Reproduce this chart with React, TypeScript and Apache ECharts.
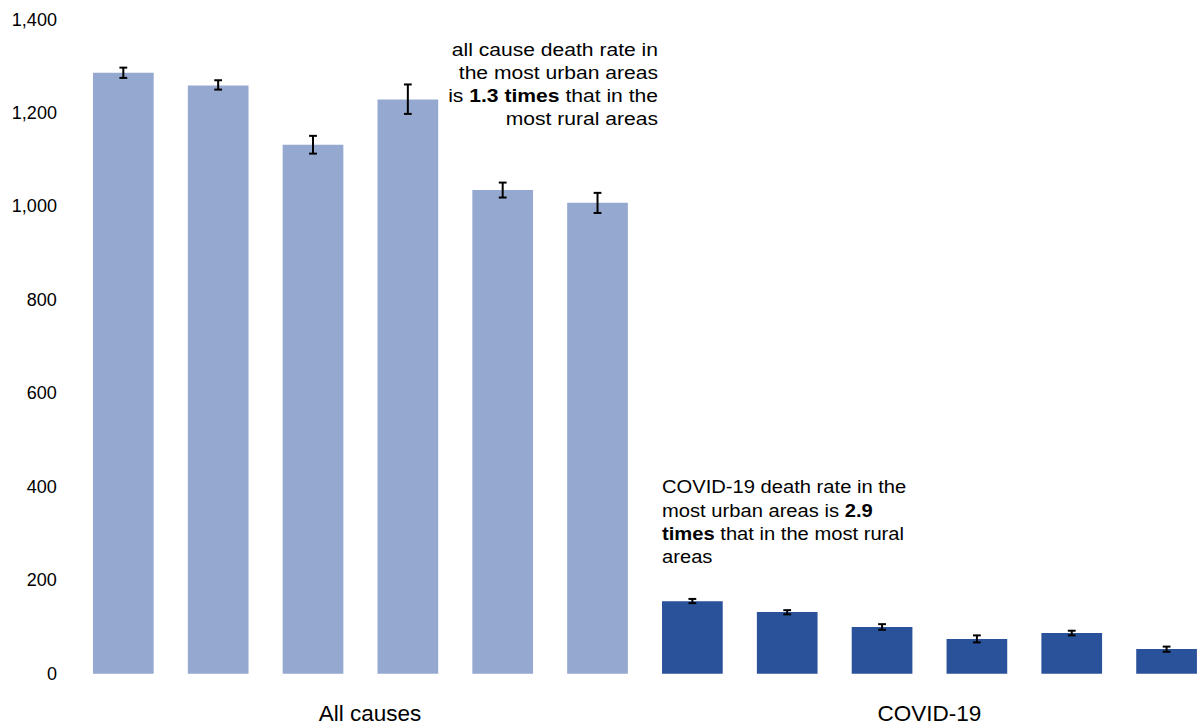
import React, { useEffect, useRef } from "react";
import * as echarts from "echarts";

// ---- data ----
const areaTypes = [
  "Urban major conurbation",
  "Urban minor conurbation",
  "Urban city and town",
  "Urban city and town in a sparse setting",
  "Rural town and fringe",
  "Rural village and dispersed",
];
const groups = ["All causes", "COVID-19"];

const allCausesRate = [1286, 1259, 1132, 1229, 1035, 1008];
const allCausesLower = [1275, 1250, 1113, 1198, 1019, 986];
const allCausesUpper = [1297, 1270, 1151, 1261, 1051, 1029];

const covidRate = [155, 132, 100, 74, 87, 53];
const covidLower = [151, 127, 94, 67, 82, 47];
const covidUpper = [160, 136, 106, 82, 92, 58];

const yTicks = { min: 0, max: 1400, interval: 200 };

const groupColors = ["#95A8CF", "#2A529A"];

const note1Lines = [
  "all cause death rate in",
  "the most urban areas",
  "is {b|1.3 times} that in the",
  "most rural areas",
];
const note2Lines = [
  "COVID-19 death rate in the",
  "most urban areas is {b|2.9}",
  "{b|times} that in the most rural",
  "areas",
];

const FONT = '"Liberation Sans", Arial, Helvetica, sans-serif';

export default function App() {
  const ref = useRef<HTMLDivElement>(null);

  useEffect(() => {
    if (!ref.current) return;
    const chart = echarts.init(ref.current, undefined, { renderer: "svg" });

    const categories: string[] = [];
    const barData: any[] = [];
    const errData: number[][] = [];
    const groupSets = [
      { rate: allCausesRate, lo: allCausesLower, hi: allCausesUpper },
      { rate: covidRate, lo: covidLower, hi: covidUpper },
    ];
    groupSets.forEach((g, gi) => {
      g.rate.forEach((v, i) => {
        const idx = categories.length;
        categories.push(groups[gi] + " - " + areaTypes[i]);
        barData.push({ value: v, itemStyle: { color: groupColors[gi] } });
        errData.push([idx, g.lo[i], g.hi[i]]);
      });
    });

    const textRich = {
      b: { fontFamily: FONT, fontSize: 18.5, fontWeight: "bold", fill: "#000", lineHeight: 23.3 },
    };

    chart.setOption({
      animation: false,
      backgroundColor: "#fff",
      grid: { left: 75.9, right: 0, top: 19.5, bottom: 52.3, containLabel: false },
      xAxis: [
        {
          type: "category",
          data: categories,
          axisLine: { show: false },
          axisTick: { show: false },
          axisLabel: { show: false },
          splitLine: { show: false },
        },
        {
          type: "category",
          data: groups,
          position: "bottom",
          axisLine: { show: false },
          axisTick: { show: false },
          splitLine: { show: false },
          axisLabel: {
            margin: 28,
            fontSize: 22.5,
            fontFamily: FONT,
            color: "#000",
            formatter: (v: string, i: number) => (i === 0 ? `{a|${v}}` : `{c|${v}}`),
            rich: {
              a: { fontSize: 22.5, fontFamily: FONT, color: "#000", padding: [0, 0, 0, 19] },
              c: { fontSize: 22.5, fontFamily: FONT, color: "#000" },
            },
          },
        },
      ],
      yAxis: {
        type: "value",
        min: yTicks.min,
        max: yTicks.max,
        interval: yTicks.interval,
        axisLine: { show: false },
        axisTick: { show: false },
        splitLine: { show: false },
        axisLabel: {
          margin: 19,
          fontSize: 18,
          fontFamily: FONT,
          color: "#000",
          formatter: (v: number) => v.toLocaleString("en-GB"),
        },
      },
      series: [
        {
          type: "bar",
          xAxisIndex: 0,
          data: barData,
          barCategoryGap: "36%",
          z: 2,
        },
        {
          type: "custom",
          xAxisIndex: 0,
          z: 5,
          data: errData,
          renderItem: (params: any, api: any) => {
            const x = api.value(0);
            const p1 = api.coord([x, api.value(1)]);
            const p2 = api.coord([x, api.value(2)]);
            const cap = 3.9;
            const st = { stroke: "#000", lineWidth: 2 };
            return {
              type: "group",
              children: [
                { type: "line", shape: { x1: p1[0], y1: p1[1], x2: p2[0], y2: p2[1] }, style: st },
                { type: "line", shape: { x1: p1[0] - cap, y1: p1[1], x2: p1[0] + cap, y2: p1[1] }, style: st },
                { type: "line", shape: { x1: p2[0] - cap, y1: p2[1], x2: p2[0] + cap, y2: p2[1] }, style: st },
              ],
            };
          },
        },
      ],
      graphic: [
        {
          type: "text",
          x: 658,
          y: 37.4,
          scaleX: 1.14,
          z: 10,
          style: {
            text: note1Lines.join("\n"),
            align: "right",
            verticalAlign: "top",
            fontFamily: FONT,
            fontSize: 18.5,
            lineHeight: 23.3,
            fill: "#000",
            rich: textRich,
          },
        },
        {
          type: "text",
          x: 662,
          y: 475,
          scaleX: 1.09,
          z: 10,
          style: {
            text: note2Lines.join("\n"),
            align: "left",
            verticalAlign: "top",
            fontFamily: FONT,
            fontSize: 18.5,
            lineHeight: 23.3,
            fill: "#000",
            rich: textRich,
          },
        },
      ],
    });

    return () => chart.dispose();
  }, []);

  return (
    <div
      ref={ref}
      style={{ position: "fixed", left: 0, top: 0, width: 1214, height: 726, background: "#fff" }}
    />
  );
}
